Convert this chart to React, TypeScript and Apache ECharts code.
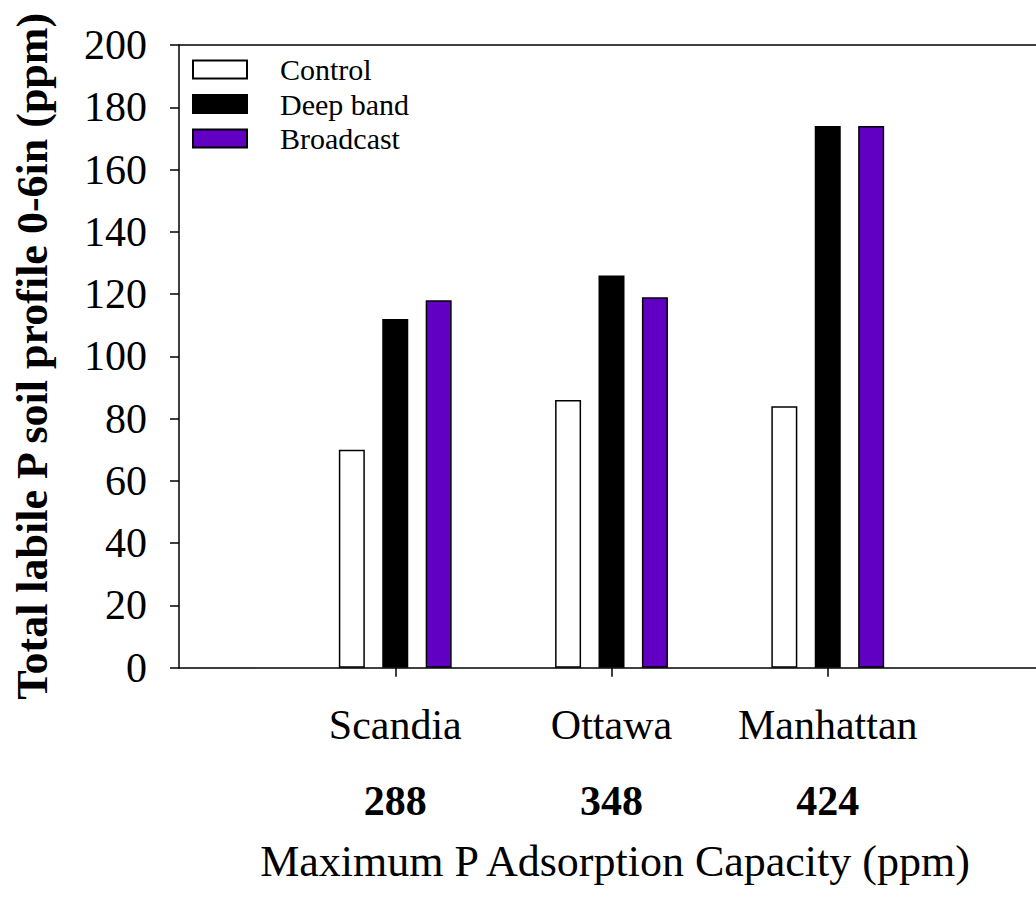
import React, { useEffect, useRef } from "react";
import * as echarts from "echarts";

const sites = ["Scandia", "Ottawa", "Manhattan"];
const capacities = ["288", "348", "424"];
const controlValues = [70, 86, 84];
const deepBandValues = [112, 126, 174];
const broadcastValues = [118, 119, 174];
const yTicks = { min: 0, max: 200, interval: 20 };

const FONT = "Liberation Serif";

export default function App() {
  const ref = useRef<HTMLDivElement>(null);

  useEffect(() => {
    if (!ref.current) return;
    const chart = echarts.init(ref.current, undefined, { renderer: "svg" });
    const categories = ["", ...sites, ""];
    const pad = (arr: number[]) => ["-", ...arr, "-"];
    const capByName: Record<string, string> = {};
    sites.forEach((s, i) => (capByName[s] = capacities[i]));

    const border = { borderColor: "#000", borderWidth: 1.5 };

    chart.setOption({
      animation: false,
      textStyle: { fontFamily: FONT },
      grid: { left: 179, top: 45, bottom: 229.3, right: 0.8, containLabel: false },
      legend: {
        orient: "vertical",
        left: 192,
        top: 54.5,
        padding: 0,
        itemWidth: 54,
        itemHeight: 18,
        itemGap: 4.5,
        icon: "rect",
        selectedMode: false,
        textStyle: {
          fontFamily: FONT,
          fontSize: 30,
          color: "#000",
          padding: [0, 0, 0, 28],
        },
        data: ["Control", "Deep band", "Broadcast"],
      },
      xAxis: [
        {
          type: "category",
          data: categories,
          boundaryGap: false,
          position: "bottom",
          axisLine: { lineStyle: { color: "#000", width: 1.5 } },
          axisTick: {
            length: 9,
            lineStyle: { color: "#000", width: 1.5 },
            interval: (index: number) => index >= 1 && index <= sites.length,
          },
          axisLabel: {
            interval: 0,
            margin: 19.5,
            formatter: (value: string) =>
              value ? `{a|${value}}\n{b|${capByName[value]}}` : "",
            rich: {
              a: { fontFamily: FONT, fontSize: 42, lineHeight: 76, color: "#000" },
              b: {
                fontFamily: FONT,
                fontSize: 42,
                fontWeight: "bold",
                lineHeight: 76,
                color: "#000",
              },
            },
          },
          name: "Maximum P Adsorption Capacity (ppm)",
          nameLocation: "middle",
          nameGap: 172,
          nameTextStyle: {
            fontFamily: FONT,
            fontSize: 44,
            color: "#000",
            padding: [0, 0, 0, 7],
          },
          splitLine: { show: false },
        },
        {
          type: "category",
          data: categories,
          boundaryGap: false,
          position: "top",
          axisLine: { lineStyle: { color: "#000", width: 1.5 } },
          axisTick: { show: false },
          axisLabel: { show: false },
          splitLine: { show: false },
        },
      ],
      yAxis: {
        type: "value",
        min: yTicks.min,
        max: yTicks.max,
        interval: yTicks.interval,
        axisLine: { show: true, lineStyle: { color: "#000", width: 1.5 } },
        axisTick: { show: true, length: 9, lineStyle: { color: "#000", width: 1.5 } },
        axisLabel: { fontFamily: FONT, fontSize: 42, color: "#000", margin: 32 },
        splitLine: { show: false },
        name: "Total labile P soil profile 0-6in (ppm)",
        nameLocation: "middle",
        nameRotate: 90,
        nameGap: 125,
        nameTextStyle: {
          fontFamily: FONT,
          fontSize: 44,
          fontWeight: "bold",
          color: "#000",
        },
      },
      series: [
        {
          name: "Control",
          type: "bar",
          xAxisIndex: 0,
          barWidth: 26,
          barGap: "67%",
          itemStyle: { color: "#ffffff", ...border },
          data: pad(controlValues),
        },
        {
          name: "Deep band",
          type: "bar",
          xAxisIndex: 0,
          barWidth: 26,
          barGap: "67%",
          itemStyle: { color: "#000000", ...border },
          data: pad(deepBandValues),
        },
        {
          name: "Broadcast",
          type: "bar",
          xAxisIndex: 0,
          barWidth: 26,
          barGap: "67%",
          itemStyle: { color: "#6100c2", ...border },
          data: pad(broadcastValues),
        },
      ],
    });
    return () => chart.dispose();
  }, []);

  return (
    <div
      style={{
        position: "absolute",
        left: 0,
        top: 0,
        width: 1036,
        height: 897,
        overflow: "hidden",
        background: "#fff",
      }}
    >
      <div ref={ref} style={{ width: 1047, height: 897 }} />
    </div>
  );
}
